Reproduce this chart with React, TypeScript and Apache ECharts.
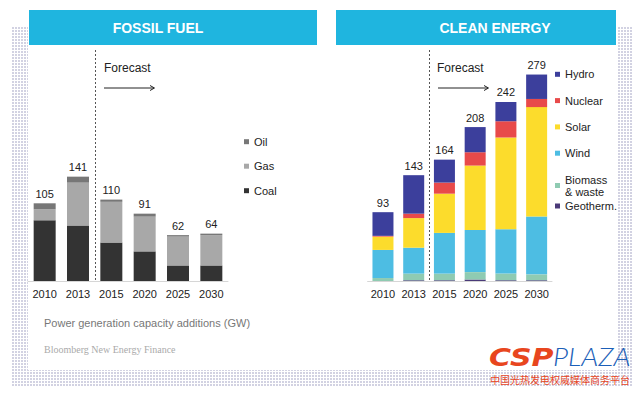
import React, { useEffect, useRef } from "react";
import * as echarts from "echarts";

const years = ["2010", "2013", "2015", "2020", "2025", "2030"];

// Fossil fuel (GW)
const coal = [82, 75, 52, 40, 21, 21];
const gas = [15, 58, 55, 47, 39, 41];
const oil = [8, 8, 3, 4, 2, 2];

// Clean energy (GW)
const geotherm = [0, 1, 1, 2, 1, 1];
const biomass = [4, 9, 9, 10, 9, 8];
const wind = [38, 35, 55, 57, 60, 78];
const solar = [18, 40, 53, 87, 124, 148];
const nuclear = [1, 6, 15, 18, 22, 11];
const hydro = [32, 52, 31, 34, 26, 33];

const fossilTotals = years.map((_, i) => coal[i] + gas[i] + oil[i]);
const cleanTotals = years.map(
  (_, i) => geotherm[i] + biomass[i] + wind[i] + solar[i] + nuclear[i] + hydro[i]
);

const FONT = "'Liberation Sans', Arial, Helvetica, sans-serif";

function makeDotPattern(): any {
  const c = document.createElement("canvas");
  c.width = 3;
  c.height = 3;
  const ctx = c.getContext("2d");
  if (ctx) {
    ctx.fillStyle = "#ffffff";
    ctx.fillRect(0, 0, 3, 3);
    ctx.fillStyle = "#d2d2e2";
    ctx.fillRect(0, 0, 2, 2);
  }
  return { image: c, repeat: "repeat" };
}

export default function App() {
  const ref = useRef<HTMLDivElement>(null);

  useEffect(() => {
    if (!ref.current) return;
    const chart = echarts.init(ref.current, undefined, { renderer: "svg" });

    const labelTop = (totals: number[]) => ({
      show: true,
      position: "top",
      distance: 4,
      color: "#222",
      fontSize: 11,
      fontFamily: FONT,
      formatter: (p: any) => String(totals[p.dataIndex]),
    });

    const xAxisCommon = {
      type: "category",
      data: years,
      axisLine: { show: true, lineStyle: { color: "#d6d6d6", width: 1 } },
      axisTick: { show: false },
      axisLabel: { color: "#222", fontSize: 11, margin: 7, interval: 0, fontFamily: FONT },
    };
    const yAxisCommon = {
      type: "value",
      min: 0,
      max: 300,
      show: false,
      splitLine: { show: false },
    };

    const dots = makeDotPattern();
    const legendText = { color: "#222", fontSize: 11, lineHeight: 12, fontFamily: FONT };

    const option: any = {
      animation: false,
      backgroundColor: "#ffffff",
      textStyle: { fontFamily: FONT },
      grid: [
        { left: 28, right: 412, top: 59, bottom: 113 },
        { left: 367.6, right: 88, top: 59, bottom: 113 },
      ],
      xAxis: [
        { ...xAxisCommon, gridIndex: 0 },
        { ...xAxisCommon, gridIndex: 1 },
      ],
      yAxis: [
        { ...yAxisCommon, gridIndex: 0 },
        { ...yAxisCommon, gridIndex: 1 },
      ],
      legend: [
        {
          orient: "vertical",
          left: 244,
          top: 135.7,
          padding: 0,
          itemWidth: 5,
          itemHeight: 5,
          itemGap: 12.5,
          icon: "rect",
          selectedMode: false,
          data: ["Oil", "Gas", "Coal"],
          textStyle: legendText,
        },
        {
          orient: "vertical",
          left: 555,
          top: 68.3,
          padding: 0,
          itemWidth: 5,
          itemHeight: 5,
          itemGap: 14.3,
          icon: "rect",
          selectedMode: false,
          data: ["Hydro", "Nuclear", "Solar", "Wind", "Biomass & waste"],
          formatter: (n: string) => (n === "Biomass & waste" ? "Biomass\n& waste" : n),
          textStyle: legendText,
        },
        {
          orient: "vertical",
          left: 555,
          top: 200,
          padding: 0,
          itemWidth: 5,
          itemHeight: 5,
          icon: "rect",
          selectedMode: false,
          data: ["Geotherm."],
          textStyle: legendText,
        },
      ],
      series: [
        { name: "Coal", type: "bar", stack: "f", xAxisIndex: 0, yAxisIndex: 0, barWidth: 22, data: coal, itemStyle: { color: "#333333" } },
        { name: "Gas", type: "bar", stack: "f", xAxisIndex: 0, yAxisIndex: 0, barWidth: 22, data: gas, itemStyle: { color: "#a8a8a8" } },
        { name: "Oil", type: "bar", stack: "f", xAxisIndex: 0, yAxisIndex: 0, barWidth: 22, data: oil, itemStyle: { color: "#777777" }, label: labelTop(fossilTotals) },
        { name: "Geotherm.", type: "bar", stack: "c", xAxisIndex: 1, yAxisIndex: 1, barWidth: 21, data: geotherm, itemStyle: { color: "#4a3a78" } },
        { name: "Biomass & waste", type: "bar", stack: "c", xAxisIndex: 1, yAxisIndex: 1, barWidth: 21, data: biomass, itemStyle: { color: "#8fcbb2" } },
        { name: "Wind", type: "bar", stack: "c", xAxisIndex: 1, yAxisIndex: 1, barWidth: 21, data: wind, itemStyle: { color: "#4dbde3" } },
        { name: "Solar", type: "bar", stack: "c", xAxisIndex: 1, yAxisIndex: 1, barWidth: 21, data: solar, itemStyle: { color: "#fcdc2c" } },
        { name: "Nuclear", type: "bar", stack: "c", xAxisIndex: 1, yAxisIndex: 1, barWidth: 21, data: nuclear, itemStyle: { color: "#e84a4a" } },
        { name: "Hydro", type: "bar", stack: "c", xAxisIndex: 1, yAxisIndex: 1, barWidth: 21, data: hydro, itemStyle: { color: "#3c3f9c" }, label: labelTop(cleanTotals) },
      ],
      graphic: [
        // dotted frame
        { type: "rect", z: -10, silent: true, shape: { x: 12, y: 26, width: 621, height: 361 }, style: { fill: dots } },
        { type: "rect", z: -9, silent: true, shape: { x: 28, y: 0, width: 590, height: 370 }, style: { fill: "#ffffff" } },
        // headers
        { type: "rect", z: 1, silent: true, shape: { x: 29, y: 10, width: 288, height: 35 }, style: { fill: "#1fb5df" } },
        { type: "rect", z: 1, silent: true, shape: { x: 336, y: 10, width: 280, height: 35 }, style: { fill: "#1fb5df" } },
        { type: "text", z: 2, x: 158, y: 27.5, style: { text: "FOSSIL FUEL", fill: "#ffffff", font: `bold 14px ${FONT}`, align: "center", verticalAlign: "middle" } },
        { type: "text", z: 2, x: 495, y: 27.5, style: { text: "CLEAN ENERGY", fill: "#ffffff", font: `bold 14px ${FONT}`, align: "center", verticalAlign: "middle" } },
        // forecast dividers
        { type: "line", z: 1, silent: true, shape: { x1: 95.5, y1: 50, x2: 95.5, y2: 281 }, style: { stroke: "#555", lineWidth: 1, lineDash: [2, 2] } },
        { type: "line", z: 1, silent: true, shape: { x1: 429.5, y1: 50, x2: 429.5, y2: 281 }, style: { stroke: "#555", lineWidth: 1, lineDash: [2, 2] } },
        { type: "text", x: 104, y: 68, style: { text: "Forecast", fill: "#222", font: `12px ${FONT}`, verticalAlign: "middle" } },
        { type: "text", x: 437, y: 68, style: { text: "Forecast", fill: "#222", font: `12px ${FONT}`, verticalAlign: "middle" } },
        { type: "line", shape: { x1: 104, y1: 88, x2: 154, y2: 88 }, style: { stroke: "#222", lineWidth: 1 } },
        { type: "polyline", shape: { points: [[150, 85.5], [154.5, 88], [150, 90.5]] }, style: { stroke: "#222", lineWidth: 1, fill: "none" } },
        { type: "line", shape: { x1: 438, y1: 88, x2: 488, y2: 88 }, style: { stroke: "#222", lineWidth: 1 } },
        { type: "polyline", shape: { points: [[484, 85.5], [488.5, 88], [484, 90.5]] }, style: { stroke: "#222", lineWidth: 1, fill: "none" } },
        // footer
        { type: "text", x: 44, y: 323, style: { text: "Power generation capacity additions (GW)", fill: "#777", font: `11px ${FONT}`, verticalAlign: "middle" } },
        { type: "text", x: 44, y: 349, style: { text: "Bloomberg New Energy Finance", fill: "#aaa", font: "10px 'Liberation Serif', 'DejaVu Serif', serif", verticalAlign: "middle" } },
        // logo
        { type: "text", x: 489, y: 357, scaleX: 1.2, style: { text: "CSP", fill: "#e8461e", font: `italic 900 25px 'DejaVu Sans', ${FONT}`, verticalAlign: "middle" } },
        { type: "text", x: 553, y: 357, scaleX: 1.12, style: { text: "PLAZA", fill: "#1c5fb8", font: `italic 300 25px Lato, ${FONT}`, verticalAlign: "middle" } },
        { type: "text", x: 490, y: 379.5, style: { text: "中国光热发电权威媒体商务平台", fill: "#e8461e", font: "10px 'Noto Sans CJK SC', sans-serif", verticalAlign: "middle" } },
      ],
    };

    chart.setOption(option);
    return () => chart.dispose();
  }, []);

  return (
    <div
      ref={ref}
      style={{ position: "fixed", left: 0, top: 0, width: 640, height: 394 }}
    />
  );
}
